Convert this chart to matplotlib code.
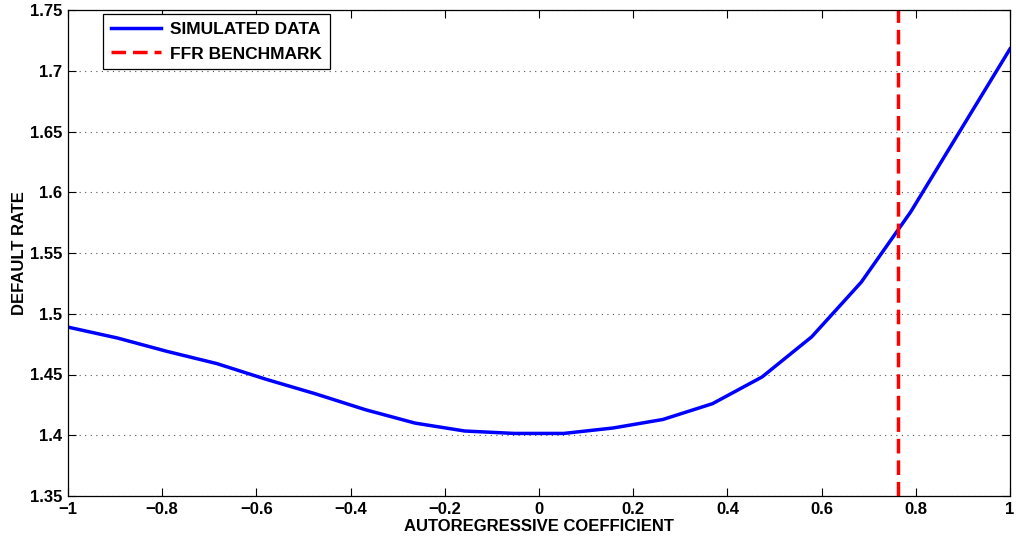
import numpy as np
import matplotlib.pyplot as plt

# autoregressive coefficient grid and simulated default rate
rho = np.linspace(-1, 1, 20)
default_rate = [1.489, 1.480, 1.469, 1.459, 1.446, 1.434, 1.421, 1.410, 1.4035, 1.4015,
                1.4015, 1.406, 1.413, 1.426, 1.448, 1.481, 1.526, 1.584, 1.651, 1.718]
ffr_rho = 0.762

plt.rcParams['font.family'] = ['Liberation Sans', 'DejaVu Sans']
plt.rcParams['font.weight'] = 'bold'

fig = plt.figure(figsize=(10.16, 5.43), dpi=100)
ax = fig.add_axes([68 / 1016, 47 / 543, 942 / 1016, 486 / 543])

ax.plot(rho, default_rate, color='#0000ff', lw=2.5, label='SIMULATED DATA')
ax.axvline(ffr_rho, color='#ff0000', lw=2.5, ls=(0, (4.2, 2.0)), label='FFR BENCHMARK')

ax.set_xlim(-1, 1)
ax.set_ylim(1.35, 1.75)
ax.set_xticks(np.arange(-1, 1.01, 0.2))
ax.set_yticks(np.arange(1.35, 1.751, 0.05))
ax.set_xticklabels(['\u22121', '\u22120.8', '\u22120.6', '\u22120.4', '\u22120.2', '0',
                    '0.2', '0.4', '0.6', '0.8', '1'])
ax.set_yticklabels(['1.35', '1.4', '1.45', '1.5', '1.55', '1.6', '1.65', '1.7', '1.75'])
ax.tick_params(direction='in', top=True, right=True, length=6, width=0.8,
               labelsize=12, pad=4)
ax.yaxis.grid(True, ls=(0, (1, 4)), color='#555555', lw=0.8)
for s in ax.spines.values():
    s.set_linewidth(0.9)

ax.set_xlabel('AUTOREGRESSIVE COEFFICIENT', fontsize=12, fontweight='bold', labelpad=2)
ax.set_ylabel('DEFAULT RATE', fontsize=12, fontweight='bold', labelpad=2)

leg = ax.legend(loc='upper left', bbox_to_anchor=(0.037, 0.992), borderaxespad=0,
                fontsize=12.5, fancybox=False, framealpha=1, edgecolor='black',
                handlelength=2.9, borderpad=0.45, labelspacing=0.55, handletextpad=0.5)
leg.get_frame().set_linewidth(0.9)

fig.savefig('out.png', dpi=100)
